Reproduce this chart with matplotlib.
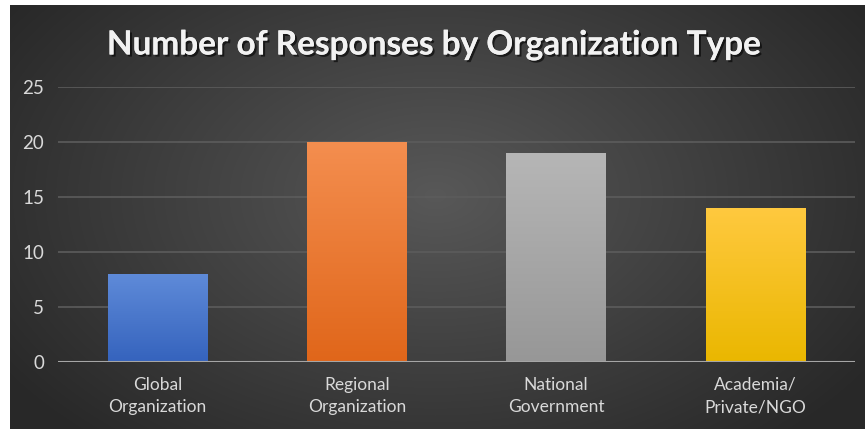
import numpy as np
import matplotlib
matplotlib.use("Agg")
import matplotlib.pyplot as plt
import matplotlib.patheffects as pe
from matplotlib.colors import LinearSegmentedColormap

# data
categories = ["Global\nOrganization", "Regional\nOrganization", "National\nGovernment", "Academia/\nPrivate/NGO"]
responses = [8, 20, 19, 14]
yticks = [0, 5, 10, 15, 20, 25]

# bar gradient colours (top, bottom)
bar_colors = [("#5f8bd9", "#3563bd"),
              ("#f48e4f", "#e0661a"),
              ("#b6b6b6", "#979797"),
              ("#ffc93f", "#eab700")]

plt.rcParams['font.family'] = ['Lato', 'DejaVu Sans']

fig = plt.figure(figsize=(8.68, 4.29), dpi=100, facecolor="white")

# dark radial background
bg = fig.add_axes([10 / 868, 0, 855 / 868, 424 / 429])
bg.set_axis_off()
yy, xx = np.mgrid[0:424, 0:855]
cx, cy = 425, 190
d = np.sqrt(((xx - cx) / 520.0) ** 2 + ((yy - cy) / 330.0) ** 2)
d = np.clip(d, 0, 1)
light = np.array([0x58, 0x58, 0x58]) / 255
dark = np.array([0x28, 0x28, 0x28]) / 255
img = light[None, None, :] * (1 - d[..., None]) + dark[None, None, :] * d[..., None]
bg.imshow(img, aspect="auto", extent=[0, 1, 0, 1], origin="upper")
bg.set_xlim(0, 1)
bg.set_ylim(0, 1)

ax = fig.add_axes([58 / 868, 67.3 / 429, 797 / 868, 275 / 429])
ax.patch.set_alpha(0)
x = np.arange(len(categories))
bars = ax.bar(x, responses, width=0.5, color="none", zorder=3)

for b, (top, bot) in zip(bars, bar_colors):
    cmap = LinearSegmentedColormap.from_list("g", [bot, top])
    grad = np.linspace(0, 1, 256).reshape(-1, 1)
    x0, y0 = b.get_x(), b.get_y()
    w, h = b.get_width(), b.get_height()
    im = ax.imshow(grad, cmap=cmap, aspect="auto", origin="lower",
                   extent=[x0, x0 + w, y0, y0 + h], zorder=3)
    im.set_clip_path(b)

ax.set_xlim(-0.5, len(categories) - 0.5)
ax.set_ylim(0, 25)
ax.set_yticks(yticks)
ax.set_xticks(x)
ax.set_xticklabels(categories, fontsize=12.5, color="#d9d9d9", linespacing=1.5)
ax.tick_params(axis="y", labelsize=13.5, labelcolor="#d9d9d9", length=0, pad=10)
ax.tick_params(axis="x", length=0, pad=11)
ax.grid(axis="y", color="#5c5c5c", linewidth=1.2, zorder=0)
for s in ax.spines.values():
    s.set_visible(False)
ax.axhline(0, color="#a6a6a6", linewidth=1.5, zorder=4)

fig.text(0.5, 1 - 45 / 429, "Number of Responses by Organization Type",
         ha="center", va="center", fontsize=24, fontweight="bold", color="#f2f2f2",
         path_effects=[pe.withSimplePatchShadow(offset=(1.5, -1.5), shadow_rgbFace="black", alpha=0.6),
                       pe.Normal()])

fig.savefig("out.png", dpi=100, facecolor="white")
